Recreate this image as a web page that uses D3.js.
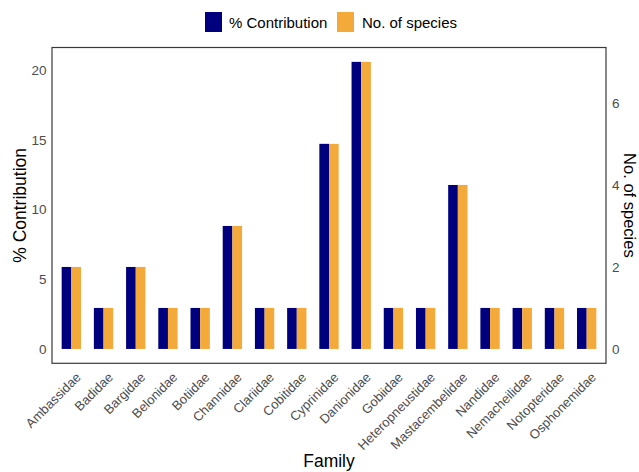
<!DOCTYPE html>
<html>
<head>
<meta charset="utf-8">
<script src="https://cdn.jsdelivr.net/npm/d3@7"></script>
<style>
  html, body { margin: 0; padding: 0; background: #fff; }
  svg { display: block; font-family: "Liberation Sans", Arial, sans-serif; }
</style>
</head>
<body>
<svg id="chart" width="639" height="472"></svg>
<script>
// Fish families and their share of the recorded species
const families = ["Ambassidae", "Badidae", "Bargidae", "Belonidae", "Botiidae", "Channidae",
  "Clariidae", "Cobitidae", "Cyprinidae", "Danionidae", "Gobiidae", "Heteropneustidae",
  "Mastacembelidae", "Nandidae", "Nemacheilidae", "Notopteridae", "Osphonemidae"];
const contribution = [5.88, 2.94, 5.88, 2.94, 2.94, 8.82, 2.94, 2.94, 14.71, 20.59,
  2.94, 2.94, 11.76, 2.94, 2.94, 2.94, 2.94];
const species = [2, 1, 2, 1, 1, 3, 1, 1, 5, 7, 1, 1, 4, 1, 1, 1, 1];
const leftTicks = [0, 5, 10, 15, 20];
const rightTicks = [0, 2, 4, 6];
const seriesNames = ["% Contribution", "No. of species"];
const colors = ["#00007f", "#f4a93b"];

const svg = d3.select("#chart");
const panel = { left: 52, right: 606, top: 47.5, bottom: 363.3 };

// x: discrete families, padded like a ggplot discrete axis
const n = families.length;
const step = (panel.right - panel.left) / (n - 1 + 1.2);
const x = d3.scalePoint().domain(families)
  .range([panel.left + 0.6 * step, panel.right - 0.6 * step]);
const barW = 0.3 * step;

// y (left): percentage with 5% expansion
const maxPct = d3.max(contribution);
const yL = d3.scaleLinear().domain([-0.05 * maxPct, maxPct * 1.05])
  .range([panel.bottom, panel.top]);
// y (right): species count, secondary axis sharing the same geometry
const ratio = d3.sum(species) / 100;
const yR = d3.scaleLinear().domain(yL.domain().map(v => v * ratio))
  .range([panel.bottom, panel.top]);

// bars
svg.append("g").selectAll("rect").data(families).join("rect")
  .attr("x", d => x(d) - barW)
  .attr("width", barW)
  .attr("y", (d, i) => yL(contribution[i]))
  .attr("height", (d, i) => yL(0) - yL(contribution[i]))
  .attr("fill", colors[0]);
svg.append("g").selectAll("rect").data(families).join("rect")
  .attr("x", d => x(d))
  .attr("width", barW)
  .attr("y", (d, i) => yR(species[i]))
  .attr("height", (d, i) => yR(0) - yR(species[i]))
  .attr("fill", colors[1]);

// panel border
svg.append("rect")
  .attr("x", panel.left).attr("y", panel.top)
  .attr("width", panel.right - panel.left).attr("height", panel.bottom - panel.top)
  .attr("fill", "none").attr("stroke", "#3a3a3a").attr("stroke-width", 1.2);

const tickColor = "#4d4d4d";

// left axis
const axL = svg.append("g").attr("transform", `translate(${panel.left},0)`)
  .call(d3.axisLeft(yL).tickValues(leftTicks).tickSize(0).tickPadding(5.5));
axL.select(".domain").remove();
axL.selectAll("text").attr("fill", tickColor).attr("font-size", 13.5).attr("font-family", null);

// right axis
const axR = svg.append("g").attr("transform", `translate(${panel.right},0)`)
  .call(d3.axisRight(yR).tickValues(rightTicks).tickSize(0).tickPadding(6));
axR.select(".domain").remove();
axR.selectAll("text").attr("fill", tickColor).attr("font-size", 13.5).attr("font-family", null);

// bottom axis with slanted labels
const axB = svg.append("g").attr("transform", `translate(0,${panel.bottom})`)
  .call(d3.axisBottom(x).tickSize(0).tickPadding(0));
axB.select(".domain").remove();
axB.selectAll("text")
  .attr("fill", tickColor).attr("font-size", 13).attr("font-family", null)
  .attr("text-anchor", "end")
  .attr("dy", null).attr("y", null)
  .attr("transform", "translate(3,8) rotate(-45)")
  .attr("dominant-baseline", "hanging");

// axis titles
svg.append("text").attr("x", (panel.left + panel.right) / 2).attr("y", 467)
  .attr("text-anchor", "middle").attr("font-size", 17.5).attr("fill", "#000").text("Family");
svg.append("text")
  .attr("transform", `translate(26,${(panel.top + panel.bottom) / 2}) rotate(-90)`)
  .attr("text-anchor", "middle").attr("font-size", 17.5).attr("fill", "#000").text("% Contribution");
svg.append("text")
  .attr("transform", `translate(623.5,${(panel.top + panel.bottom) / 2}) rotate(90)`)
  .attr("text-anchor", "middle").attr("font-size", 16.5).attr("fill", "#000").text("No. of species");

// legend
const legend = svg.append("g");
const items = [{ x: 205, tx: 229 }, { x: 337, tx: 362 }];
seriesNames.forEach((name, i) => {
  legend.append("rect").attr("x", items[i].x).attr("y", 12).attr("width", 17).attr("height", 20)
    .attr("fill", colors[i]);
  legend.append("text").attr("x", items[i].tx).attr("y", 22.5)
    .attr("dominant-baseline", "central").attr("font-size", 15).attr("fill", "#000").text(name);
});
</script>
</body>
</html>
